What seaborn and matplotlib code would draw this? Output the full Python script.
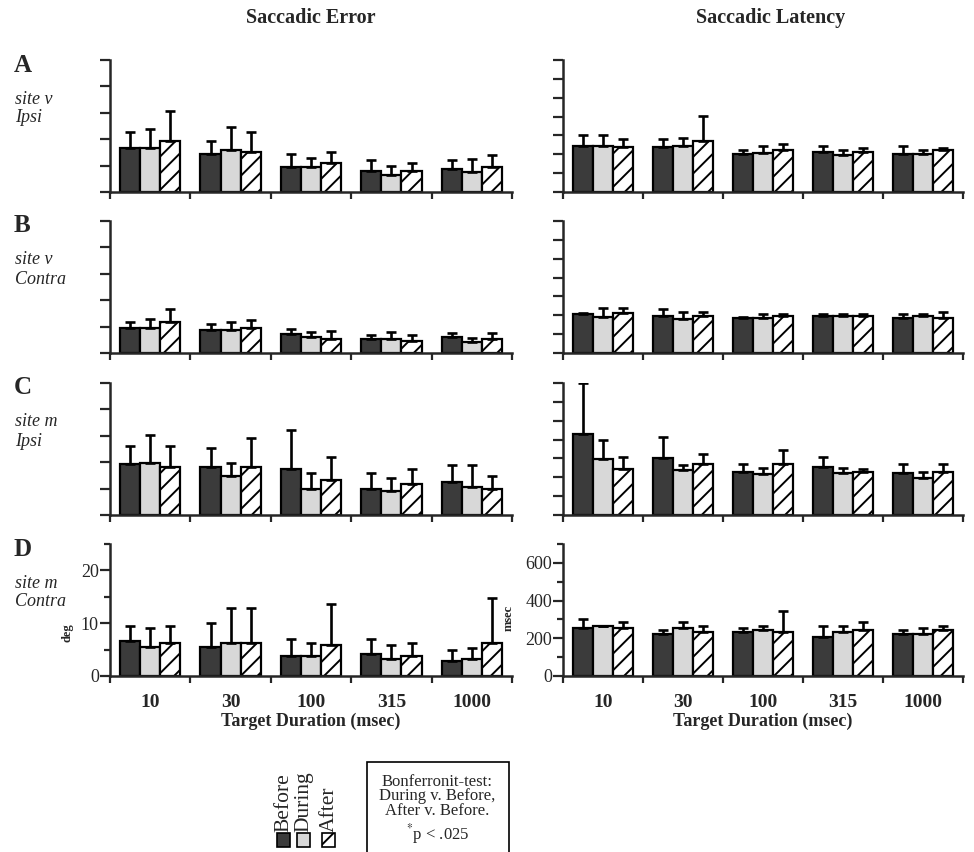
import numpy as np
import pandas as pd
import matplotlib
matplotlib.use("Agg")
import matplotlib.pyplot as plt
from matplotlib.patches import Rectangle
import seaborn as sns

# ---------------------------------------------------------------- data
durations = ["10", "30", "100", "315", "1000"]
conditions = ["Before", "During", "After"]
panel_letters = ["A", "B", "C", "D"]
panel_sites = ["site v", "site v", "site m", "site m"]
panel_sides = ["Ipsi", "Contra", "Ipsi", "Contra"]

# Saccadic error (deg); rows = Before, During, After; columns = durations
error_A_mean = [[8.3, 7.2, 4.8, 3.9, 4.4], [8.3, 8.0, 4.7, 3.3, 3.8], [9.7, 7.6, 5.5, 3.9, 4.7]]
error_A_sd = [[3.0, 2.5, 2.4, 2.1, 1.6], [3.7, 4.4, 1.7, 1.7, 2.5], [5.7, 3.7, 2.1, 1.5, 2.4]]
error_B_mean = [[4.7, 4.3, 3.6, 2.6, 3.1], [4.7, 4.3, 3.1, 2.6, 2.0], [5.9, 4.7, 2.6, 2.2, 2.6]]
error_B_sd = [[1.2, 1.1, 1.0, 0.9, 0.7], [1.7, 1.6, 0.9, 1.3, 0.8], [2.4, 1.6, 1.6, 1.2, 1.1]]
error_C_mean = [[9.6, 9.1, 8.7, 5.0, 6.3], [9.9, 7.4, 5.0, 4.5, 5.3], [9.1, 9.1, 6.7, 5.8, 5.0]]
error_C_sd = [[3.4, 3.6, 7.4, 2.9, 3.2], [5.3, 2.4, 2.9, 2.5, 4.1], [3.9, 5.4, 4.3, 2.9, 2.4]]
error_D_mean = [[6.6, 5.4, 3.7, 4.2, 2.9], [5.4, 6.3, 3.7, 3.2, 3.3], [6.3, 6.3, 5.8, 3.7, 6.2]]
error_D_sd = [[2.9, 4.6, 3.4, 2.9, 2.1], [3.6, 6.5, 2.5, 2.6, 2.0], [3.2, 6.5, 7.9, 2.5, 8.6]]

# Saccadic latency (msec)
latency_A_mean = [[245, 237, 202, 212, 202], [245, 245, 207, 198, 202], [237, 272, 224, 212, 224]]
latency_A_sd = [[58, 45, 22, 33, 43], [58, 44, 35, 26, 22], [45, 131, 32, 21, 9]]
latency_B_mean = [[207, 196, 187, 196, 187], [193, 180, 187, 196, 196], [210, 196, 196, 196, 187]]
latency_B_sd = [[3, 35, 6, 11, 20], [47, 39, 20, 11, 11], [30, 23, 11, 11, 32]]
latency_C_mean = [[432, 300, 229, 256, 221], [296, 238, 215, 221, 194], [245, 268, 268, 229, 229]]
latency_C_sd = [[268, 114, 44, 52, 52], [104, 27, 35, 29, 35], [63, 53, 76, 14, 44]]
latency_D_mean = [[255, 223, 235, 208, 223], [263, 253, 246, 231, 223], [255, 235, 231, 246, 246]]
latency_D_sd = [[48, 21, 20, 55, 21], [4, 35, 21, 32, 30], [33, 28, 116, 42, 21]]

error_means = [error_A_mean, error_B_mean, error_C_mean, error_D_mean]
error_sds = [error_A_sd, error_B_sd, error_C_sd, error_D_sd]
latency_means = [latency_A_mean, latency_B_mean, latency_C_mean, latency_D_mean]
latency_sds = [latency_A_sd, latency_B_sd, latency_C_sd, latency_D_sd]

# ---------------------------------------------------------------- style
sns.set_style("ticks")
plt.rcParams["font.family"] = ["Liberation Serif", "DejaVu Serif"]
plt.rcParams["mathtext.fontset"] = "stix"
plt.rcParams["hatch.linewidth"] = 1.4
plt.rcParams["axes.linewidth"] = 1.8

bar_colors = ["#3b3b3b", "#d8d8d8", "#ffffff"]
bar_hatches = ["", "", "//"]
palette = dict(zip(conditions, bar_colors))

W, H = 974, 852
fig = plt.figure(figsize=(W / 100, H / 100), dpi=100)


def px_axes(left, right, top, bottom):
    return fig.add_axes([left / W, 1 - bottom / H, (right - left) / W, (bottom - top) / H])


def fx(x):
    return x / W


def fy(y):
    return 1 - y / H


def draw_panel(ax, means, sds, ymax, step, bottom_row, ylabel, label_x):
    df = pd.DataFrame({
        "duration": np.tile(durations, len(conditions)),
        "condition": np.repeat(conditions, len(durations)),
        "value": np.ravel(means),
    })
    sns.barplot(data=df, x="duration", y="value", hue="condition",
                order=durations, hue_order=conditions, palette=palette,
                edgecolor="black", linewidth=1.6, width=0.75,
                errorbar=None, legend=False, ax=ax)
    for container, m, s, hatch in zip(ax.containers, means, sds, bar_hatches):
        xs = [b.get_x() + b.get_width() / 2 for b in container]
        for b in container:
            b.set_hatch(hatch)
        ax.errorbar(xs, m, yerr=[np.zeros(len(s)), s], fmt="none",
                    ecolor="black", elinewidth=1.9, capsize=3.5,
                    capthick=1.9, zorder=3)

    ax.set_xlim(-0.5, len(durations) - 0.5)
    ax.set_ylim(0, ymax)
    sns.despine(ax=ax)

    # category boundaries carry the tick marks, centres carry the labels
    ax.set_xticks(range(len(durations)))
    ax.set_xticks(np.arange(-0.5, len(durations), 1.0), minor=True)
    ax.tick_params(axis="x", which="major", length=0, pad=13)
    ax.tick_params(axis="x", which="minor", length=5, width=1.6, direction="out")

    if bottom_row:
        ax.set_xticklabels(durations, fontsize=14, fontweight="bold")
        ax.set_xlabel("Target Duration (msec)", fontsize=13, fontweight="bold", labelpad=1)
        ax.set_yticks(np.arange(0, ymax + 1, 2 * step))
        ax.set_yticks(np.arange(step, ymax + 1, 2 * step), minor=True)
        ax.tick_params(axis="y", which="major", length=7, width=1.6, labelsize=13, pad=1)
        ax.tick_params(axis="y", which="minor", length=4, width=1.6)
        ax.set_ylabel(ylabel, fontsize=9, fontweight="bold")
        ax.yaxis.set_label_coords(label_x[0], label_x[1])
    else:
        ax.set_xticklabels([])
        ax.set_xlabel("")
        ax.set_yticks(np.arange(0, ymax + 1, step))
        ax.set_yticklabels([])
        ax.tick_params(axis="y", which="major", length=7, width=1.6)
        ax.set_ylabel("")


row_tops = [60, 221, 383, 544]
row_height = 132

for i in range(4):
    top = row_tops[i]
    bottom = top + row_height
    last = i == 3
    ax_err = px_axes(110, 512, top, bottom)
    draw_panel(ax_err, error_means[i], error_sds[i], 25, 5, last, "deg",
               ((74 - 110) / 402, (676 - 633) / 132))
    ax_lat = px_axes(563, 963, top, bottom)
    draw_panel(ax_lat, latency_means[i], latency_sds[i], 700, 100, last, "msec",
               ((515 - 563) / 400, (676 - 618) / 132))

    fig.text(fx(14), fy(top + 5), panel_letters[i], ha="left", va="center",
             fontsize=18, fontweight="bold")
    fig.text(fx(15), fy(top + 39), panel_sites[i], ha="left", va="center",
             fontsize=13, fontstyle="italic")
    fig.text(fx(15), fy(top + 58), panel_sides[i], ha="left", va="center",
             fontsize=13, fontstyle="italic")

# column headings
fig.text(fx(311), fy(18), "Saccadic Error", ha="center", va="center",
         fontsize=14.5, fontweight="bold")
fig.text(fx(771), fy(18), "Saccadic Latency", ha="center", va="center",
         fontsize=14.5, fontweight="bold")

# condition key, written upright
key_x = [277, 297, 322]
for x, cond, color, hatch in zip(key_x, conditions, bar_colors, ["", "", "/"]):
    fig.add_artist(Rectangle((fx(x), fy(847)), 13 / W, 14 / H,
                             transform=fig.transFigure, facecolor=color,
                             edgecolor="black", linewidth=1.2, hatch=hatch))
    fig.text(fx(x + 7), fy(832), cond, rotation=90, ha="center", va="bottom",
             fontsize=15.5)

# statistics note
fig.add_artist(Rectangle((fx(367), fy(860)), 142 / W, 98 / H,
                         transform=fig.transFigure, facecolor="white",
                         edgecolor="black", linewidth=1.2, clip_on=False))
fig.text(fx(437), fy(782), "Bonferronit-test:", ha="center", va="center", fontsize=12)
fig.text(fx(437), fy(796.5), "During v. Before,", ha="center", va="center", fontsize=12)
fig.text(fx(437), fy(811), "After v. Before.", ha="center", va="center", fontsize=12)
fig.text(fx(438), fy(839), r"$^{*}$p < .025", ha="center", va="baseline", fontsize=12)

fig.savefig("out.png", dpi=100)
